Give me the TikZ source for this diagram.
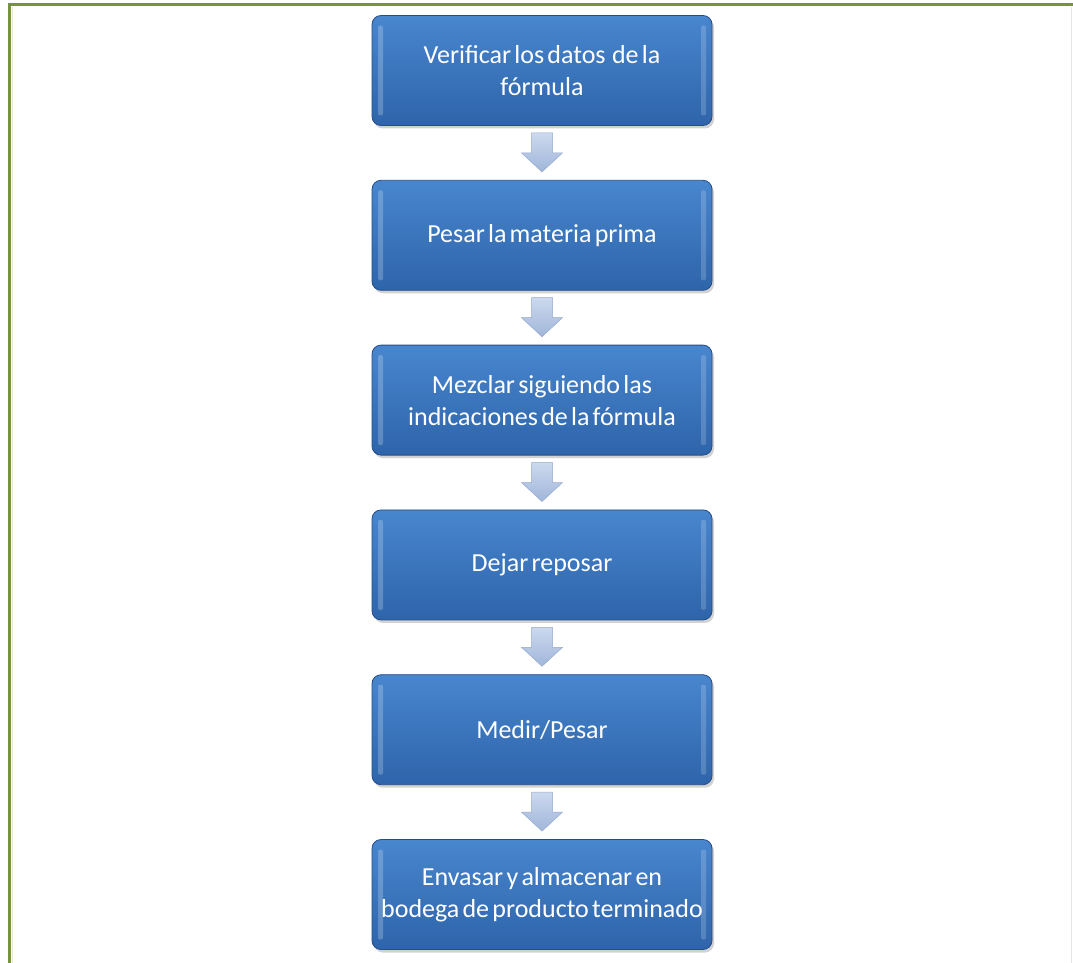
\documentclass[tikz,border=0pt]{standalone}
\usepackage{fontspec}
\setmainfont{Carlito}[WordSpace=0.55]
\usetikzlibrary{calc,shadows}
\definecolor{frameg}{RGB}{119,147,60}
\definecolor{boxtop}{RGB}{72,134,206}
\definecolor{boxbot}{RGB}{46,100,170}
\definecolor{boxedge}{RGB}{36,78,138}
\definecolor{arrtop}{RGB}{204,217,238}
\definecolor{arrbot}{RGB}{160,182,218}
\definecolor{arredge}{RGB}{150,170,205}
\tikzset{
  stepbox/.style={rectangle, rounded corners=9pt, minimum width=340pt, minimum height=110pt,
    top color=boxtop, bottom color=boxbot, draw=boxedge, line width=0.8pt,
    drop shadow={shadow xshift=2pt, shadow yshift=-3pt, opacity=0.35},
    text=white, align=center, font=\fontsize{26pt}{32pt}\selectfont, inner sep=0pt,
    path picture={
      \fill[white, opacity=0.22, rounded corners=2pt]
        ($(path picture bounding box.north west)+(6pt,-10pt)$) rectangle
        ($(path picture bounding box.south west)+(11pt,10pt)$);
      \fill[white, opacity=0.18, rounded corners=2pt]
        ($(path picture bounding box.north east)+(-11pt,-10pt)$) rectangle
        ($(path picture bounding box.south east)+(-6pt,10pt)$);
    }},
  downarrow/.style={top color=arrtop, bottom color=arrbot, draw=arredge, line width=0.5pt}
}
\begin{document}
\begin{tikzpicture}[x=1pt,y=-1pt]
\useasboundingbox (0,0) rectangle (1073,963);
\fill[white] (0,0) rectangle (1073,963);
\draw[gray!20, line width=1pt] (12,7) -- (12,963);
\draw[gray!20, line width=1pt] (1071,7) -- (1071,963);
\draw[frameg, line width=3pt] (9,963) -- (9,5) -- (1073,5);

\node[stepbox] (b1) at (542,70.5) {Verificar los datos\ \ de la\\fórmula};
\node[stepbox] (b2) at (542,235.3) {Pesar la materia prima};
\node[stepbox] (b3) at (542,400.1) {Mezclar siguiendo las\\indicaciones de la fórmula};
\node[stepbox] (b4) at (542,564.9) {Dejar reposar};
\node[stepbox] (b5) at (542,729.7) {Medir/Pesar};
\node[stepbox] (b6) at (542,894.5) {Envasar y almacenar en\\bodega de producto terminado};

\foreach \a/\b in {b1/b2,b2/b3,b3/b4,b4/b5,b5/b6}{
  \coordinate (s) at ($(\a.south)+(0,7)$);
  \coordinate (t) at ($(\b.north)+(0,-8)$);
  \path[downarrow] ($(s)+(-10.5,0)$) -- ($(s)+(10.5,0)$) -- ($(t)+(10.5,-19)$) -- ($(t)+(20.5,-19)$)
     -- (t) -- ($(t)+(-20.5,-19)$) -- ($(t)+(-10.5,-19)$) -- cycle;
}
\end{tikzpicture}
\end{document}
